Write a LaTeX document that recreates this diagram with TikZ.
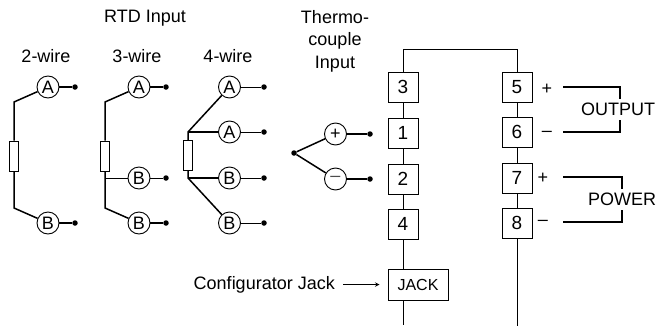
\documentclass[tikz,border=0pt]{standalone}
\usepackage{fontspec}
\setmainfont{Liberation Sans}
\usepackage{tikz}
\usetikzlibrary{calc, positioning}

\newcommand{\lblfont}{\fontsize{18}{22.5}\selectfont}

\tikzset{
    wire/.style={line width=1.5pt},
    thinwire/.style={line width=1pt},
    term/.style={draw, line width=0.9pt, circle, fill=white, minimum size=22pt, inner sep=0pt, font=\lblfont},
    pin/.style={circle, fill=black, minimum size=5.5pt, inner sep=0pt},
    res/.style={draw, line width=1pt, minimum width=9.5pt, minimum height=30pt, inner sep=0pt},
    conn/.style={draw, line width=1pt, minimum width=30pt, minimum height=30pt, inner sep=0pt, font=\fontsize{19}{20}\selectfont},
    lbl/.style={inner sep=0pt, font=\lblfont, align=center},
    grp/.style={inner sep=4pt, font=\lblfont}
}

\begin{document}
\begin{tikzpicture}[>=stealth, x=1pt, y=-1pt]

            \useasboundingbox (0,0) rectangle (657,327);

            % Headings
            \node[lbl] (rtd) at (145,18) {RTD Input};
            \node[lbl] (w2) at (46,56) {2-wire};
            \node[lbl] (w3) at (137,56) {3-wire};
            \node[lbl] (w4) at (228,56) {4-wire};
            \node[lbl] (tc) at (335,41) {Thermo-\\couple\\Input};

            % 2-wire
            \node[term] (a2) at (48,87) {A};
            \node[term] (b2) at (48,223) {B};
            \node[res] (r2) at (14,156) {};
            \node[pin] (pa2) at (75,87) {};
            \node[pin] (pb2) at (75,223) {};
            \coordinate (ta2) at (14,102);
            \coordinate (tb2) at (14,208);
            \draw[wire] (a2) -- (ta2) -- (r2.north);
            \draw[wire] (r2.south) -- (tb2) -- (b2);
            \draw[wire] (a2) -- (pa2);
            \draw[wire] (b2) -- (pb2);

            % 3-wire
            \node[term] (a3) at (139,87) {A};
            \node[term] (b3) at (139,178) {B};
            \node[term] (c3) at (139,223) {B};
            \node[res] (r3) at (105,156) {};
            \node[pin] (pa3) at (166,87) {};
            \node[pin] (pb3) at (166,178) {};
            \node[pin] (pc3) at (166,223) {};
            \coordinate (ta3) at (105,102);
            \coordinate (tb3) at (105,208);
            \draw[wire] (a3) -- (ta3) -- (r3.north);
            \draw[wire] (r3.south) -- (tb3) -- (c3);
            \draw[thinwire] (105,178) -- (b3);
            \draw[wire] (a3) -- (pa3);
            \draw[thinwire] (b3) -- (pb3);
            \draw[wire] (c3) -- (pc3);

            % 4-wire
            \node[term] (a4) at (229.5,87) {A};
            \node[term] (e4) at (229.5,132) {A};
            \node[term] (b4) at (229.5,178) {B};
            \node[term] (c4) at (229.5,223) {B};
            \node[res] (r4) at (188,155.5) {};
            \node[pin] (pa4) at (264,87) {};
            \node[pin] (pe4) at (264,132) {};
            \node[pin] (pb4) at (264,178) {};
            \node[pin] (pc4) at (264,223) {};
            \coordinate (ta4) at (188,132);
            \coordinate (tb4) at (188,178);
            \draw[wire] (r4.north) -- (ta4) -- (a4);
            \draw[wire] (ta4) -- (e4);
            \draw[wire] (r4.south) -- (tb4) -- (c4);
            \draw[wire] (tb4) -- (b4);
            \draw[thinwire] (a4) -- (pa4);
            \draw[thinwire] (e4) -- (pe4);
            \draw[thinwire] (b4) -- (pb4);
            \draw[thinwire] (c4) -- (pc4);

            % Thermocouple
            \node[term] (tp) at (335.5,134) {+};
            \node[term] (tm) at (335.5,179) {\textcolor{black!70}{--}};
            \node[pin] (tj) at (294,153) {};
            \node[pin] (ptp) at (370,134) {};
            \node[pin] (ptm) at (370,179) {};
            \draw[wire] (tj) -- (tp);
            \draw[wire] (tj) -- (tm);
            \draw[wire] (tp) -- (ptp);
            \draw[wire] (tm) -- (ptm);

            % Connector blocks
            \node[conn] (c3t) at (403,87) {3};
            \node[conn] (c1t) at (403,133) {1};
            \node[conn] (c2t) at (403,179) {2};
            \node[conn] (c4t) at (403,224) {4};
            \node[conn, minimum width=60pt, minimum height=31pt, font=\fontsize{16}{20}\selectfont] (jack) at (418,284.5) {JACK};
            \node[conn] (c5t) at (517,87) {5};
            \node[conn] (c6t) at (517,132) {6};
            \node[conn] (c7t) at (517,178) {7};
            \node[conn] (c8t) at (517,223) {8};
            \coordinate (tl) at (403,49);
            \coordinate (tr) at (517,49);
            \coordinate (el) at (403,325);
            \coordinate (er) at (517,326);

            % Connections: blocks in each column
            \draw[thinwire] (c5t) -- (tr) -- (tl) -- (c3t);
            \draw[thinwire] (c3t) -- (c1t);
            \draw[thinwire] (c1t) -- (c2t);
            \draw[thinwire] (c2t) -- (c4t);
            \draw[thinwire] (c4t) -- (c4t |- jack.north);
            \draw[thinwire] (c4t |- jack.south) -- (el);
            \draw[thinwire] (c5t) -- (c6t);
            \draw[thinwire] (c6t) -- (c7t);
            \draw[thinwire] (c7t) -- (c8t);
            \draw[thinwire] (c8t) -- (er);

            % Configurator label
            \node[lbl, inner sep=4pt, anchor=east] (cfg) at (339,284.5) {Configurator Jack};
            \draw[->, thinwire, shorten >=8pt, shorten <=4pt] (cfg) -- (jack);

            % Output and power
            \node[lbl] (op) at (547,89) {+};
            \node[lbl] (om) at (547,134) {--};
            \node[lbl] (pp) at (543,178) {+};
            \node[lbl] (pm) at (543,223) {--};
            \node[grp] (output) at (618,109.5) {OUTPUT};
            \node[grp] (power) at (622,199.5) {POWER};
            \coordinate (oa) at (563,87);
            \coordinate (ob) at (563,132);
            \coordinate (pa) at (563,177);
            \coordinate (pb) at (563,222);
            \draw[wire] (oa) -| ([xshift=2pt]output.north);
            \draw[wire] (ob) -| ([xshift=2pt]output.south);
            \draw[wire] (pa) -| (power.north);
            \draw[wire] (pb) -| (power.south);

        \end{tikzpicture}
\end{document}
